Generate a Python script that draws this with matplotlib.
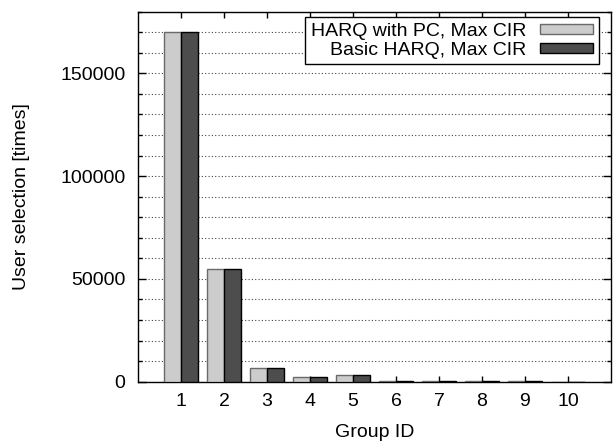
import numpy as np
import matplotlib
matplotlib.use('Agg')
import matplotlib.pyplot as plt
from matplotlib.ticker import MultipleLocator

groups = ['1', '2', '3', '4', '5', '6', '7', '8', '9', '10']
harq_pc = [170000, 54800, 6500, 2100, 3300, 550, 450, 250, 150, 80]
basic_harq = [170000, 54800, 6500, 2100, 3300, 550, 450, 250, 150, 80]
labels = ['HARQ with PC, Max CIR', 'Basic HARQ, Max CIR']

plt.rcParams['font.family'] = ['Liberation Sans', 'DejaVu Sans']
plt.rcParams['font.size'] = 14

fig = plt.figure(figsize=(6.16, 4.42), dpi=100)
ax = fig.add_axes([138/616, 1 - 381.7/442, 473/616, 370/442])

x = np.arange(len(groups))
w = 0.4
ax.bar(x - w/2, harq_pc, w, color='#cccccc', edgecolor='#6a6a6a', lw=1, label=labels[0], zorder=3)
ax.bar(x + w/2, basic_harq, w, color='#4d4d4d', edgecolor='black', lw=1, label=labels[1], zorder=3)

ax.set_xlim(-1, 10)
ax.set_ylim(0, 180000)
ax.set_xticks(x)
ax.set_xticklabels(groups)
ax.yaxis.set_major_locator(MultipleLocator(50000))
ax.yaxis.set_minor_locator(MultipleLocator(10000))
ax.tick_params(axis='both', which='both', direction='in', top=True, right=True)
ax.tick_params(axis='y', which='major', length=6, width=1, pad=9)
ax.tick_params(axis='y', which='minor', length=3, width=1)
ax.tick_params(axis='x', which='major', length=4.5, width=1, pad=8)
ax.grid(True, axis='y', which='both', linestyle=(0, (1, 2)), color='#444444', lw=0.8, zorder=0)
ax.set_axisbelow(True)
for s in ax.spines.values():
    s.set_linewidth(1)

ax.set_xlabel('Group ID')
ax.set_ylabel('User selection [times]')
ax.xaxis.set_label_coords(0.5, -0.114)
ax.yaxis.set_label_coords(-0.228, 0.5)

leg = ax.legend(loc='upper right', bbox_to_anchor=(0.975, 0.986), borderaxespad=0,
                markerfirst=False, fancybox=False, framealpha=1, edgecolor='black',
                labelspacing=0.1, handlelength=2.75, handleheight=0.41,
                handletextpad=0.7, borderpad=0.3)
leg.get_frame().set_linewidth(1)

plt.savefig('out.png', dpi=100)
